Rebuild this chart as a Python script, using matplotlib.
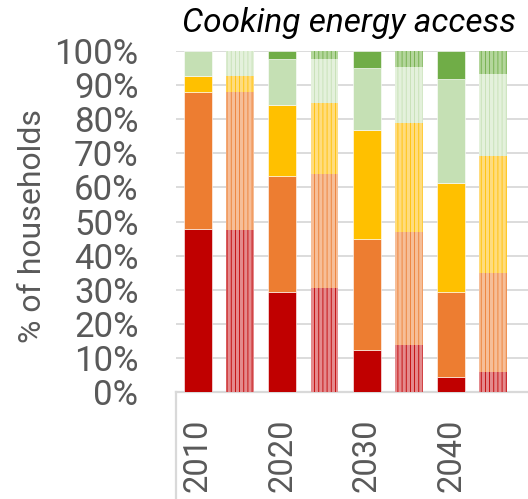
"""Cooking energy access: stacked shares of households, solid vs hatched bars."""

import matplotlib
matplotlib.use("Agg")
import matplotlib.pyplot as plt

plt.rcParams["font.family"] = ["Roboto", "DejaVu Sans"]
plt.rcParams["hatch.linewidth"] = 0.6

years = [2010, 2015, 2020, 2025, 2030, 2035, 2040, 2045]
hatched = [False, True, False, True, False, True, False, True]
tick_years = [2010, 2020, 2030, 2040]

# shares of households (%), bottom to top
red = [47.7, 47.6, 29.4, 30.6, 12.4, 13.9, 4.5, 5.9]
orange = [40.4, 40.5, 33.9, 33.4, 32.6, 33.1, 24.7, 29.1]
yellow = [4.7, 4.7, 20.9, 20.8, 31.9, 32.0, 32.2, 34.3]
light_green = [7.2, 7.2, 13.4, 12.9, 18.0, 16.4, 30.3, 23.9]
dark_green = [0.0, 0.0, 2.4, 2.3, 5.1, 4.6, 8.3, 6.8]

series = [red, orange, yellow, light_green, dark_green]
solid_colors = ["#C00000", "#ED7D31", "#FFC000", "#C5E0B4", "#70AD47"]
light_colors = ["#E48A8D", "#F6BE98", "#FFDC7E", "#E4F1DC", "#B4D69C"]

grey = "#595959"
grid_grey = "#D9D9D9"

fig = plt.figure(figsize=(5.28, 4.99), dpi=100)
ax = fig.add_axes([0.3333, 0.2144, 0.6667, 0.6834])

width = 3.3
bottoms = [0.0] * len(years)
for values, solid, light in zip(series, solid_colors, light_colors):
    for i, year in enumerate(years):
        if values[i] <= 0:
            continue
        if hatched[i]:
            ax.bar(year, values[i], width, bottom=bottoms[i], facecolor=light,
                   edgecolor=solid, hatch="||||", linewidth=0, zorder=3)
        else:
            ax.bar(year, values[i], width, bottom=bottoms[i], color=solid,
                   edgecolor="white", linewidth=0.4, zorder=3)
        bottoms[i] += values[i]

ax.set_xlim(2007.4, 2049.1)
ax.set_ylim(0, 100)
ax.set_yticks(range(0, 101, 10))
ax.set_yticklabels([f"{v}%" for v in range(0, 101, 10)])
ax.set_xticks(tick_years)
ax.set_xticklabels([str(y) for y in tick_years], rotation=90, va="top", ha="center")

ax.tick_params(axis="y", length=0, pad=27, labelsize=25, labelcolor=grey)
ax.tick_params(axis="x", length=0, pad=19, labelsize=23.5, labelcolor=grey)

ax.grid(axis="y", color=grid_grey, linewidth=1.3, zorder=0)
for side in ["left", "right", "top"]:
    ax.spines[side].set_visible(False)
ax.spines["bottom"].set_color(grid_grey)
ax.spines["bottom"].set_linewidth(1.6)

# vertical rule under the category axis
ax.plot([0, 0], [0, -0.33], transform=ax.transAxes, color=grid_grey,
        linewidth=1.6, clip_on=False)

fig.text(0.0625, 0.547, "% of households", rotation=90, ha="center", va="center",
         fontsize=23, color=grey)
fig.text(0.345, 0.936, "Cooking energy access", ha="left", va="baseline",
         fontsize=24, style="italic", color="black")

fig.savefig("out.png", dpi=100)
